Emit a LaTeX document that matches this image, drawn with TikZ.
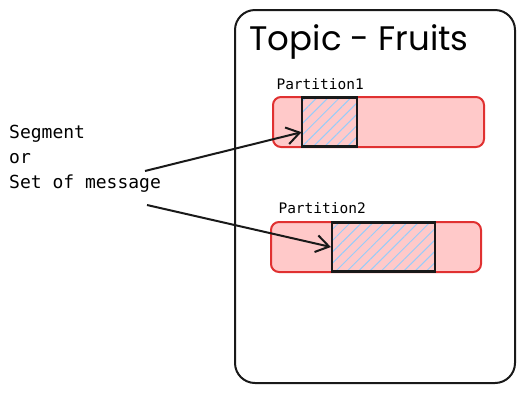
\documentclass[tikz,border=0pt]{standalone}
\usepackage{fontspec}
\usepackage{tikz}
\usetikzlibrary{arrows.meta, positioning, patterns.meta}
\setmainfont{Poppins}
\newfontfamily\monofnt{DejaVu Sans Mono}
\definecolor{cPartFill}{RGB}{255,201,201}
\definecolor{cPartLine}{RGB}{224,49,49}
\definecolor{cHatch}{RGB}{150,205,250}
\tikzset{
	topicbox/.style ={rectangle, rounded corners=20pt, draw=black!90, line width=2pt, minimum width=280pt, minimum height=373pt},
	partbar/.style  ={rectangle, rounded corners=8pt, draw=cPartLine, line width=2pt, fill=cPartFill, minimum height=50pt},
	segbox/.style   ={rectangle, draw=black!90, line width=2.2pt, preaction={fill=cPartFill}, pattern={Lines[angle=45, distance=8pt, line width=1pt]}, pattern color=cHatch, minimum height=49pt},
	plabel/.style   ={anchor=west, font=\monofnt\fontsize{14.5pt}{16pt}\selectfont},
	ptr/.style      ={-{Straight Barb[length=13pt, width=17pt, line width=2pt]}, line width=2pt, black!90},
}
\begin{document}
\begin{tikzpicture}[x=1pt, y=-1pt]
	\useasboundingbox (0,0) rectangle (526,392);
	\node[topicbox] (topic) at (375,196.5) {};
	\node[anchor=west, font=\fontsize{34pt}{36pt}\selectfont] (title) at (246,42) {Topic - Fruits};
	\node[plabel] (lbl1) at (273,84) {Partition1};
	\node[partbar, minimum width=211pt] (part1) at (378.5,122) {};
	\node[segbox, minimum width=55pt] (seg1) at (329.5,122) {};
	\node[plabel] (lbl2) at (275,208) {Partition2};
	\node[partbar, minimum width=210pt] (part2) at (376,247) {};
	\node[segbox, minimum width=103pt] (seg2) at (383.5,247) {};
	\node[anchor=north west, align=left, inner sep=0pt, font=\monofnt\fontsize{18pt}{25pt}\selectfont] (txt) at (9,125) {Segment\\ or\\ Set of message};
	\coordinate (a1) at (145,171);
	\coordinate (a2) at (147,205);
	\draw[ptr] (a1) -- (seg1.200);
	\draw[ptr] (a2) -- (seg2.west);
\end{tikzpicture}
\end{document}
